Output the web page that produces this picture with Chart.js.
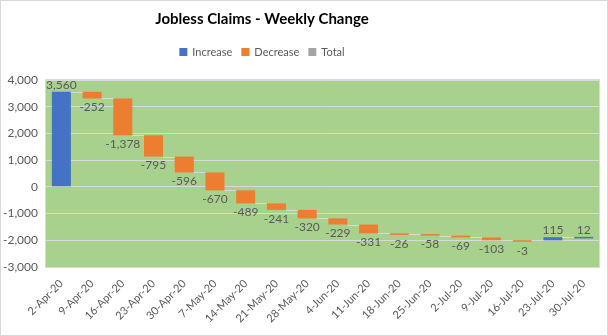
<!DOCTYPE html>
<html>
<head>
<meta charset="utf-8">
<script src="https://cdn.jsdelivr.net/npm/chart.js@4"></script>
<style>
  html, body { margin: 0; padding: 0; background: #fff; }
</style>
</head>
<body>
<canvas id="chart" width="608" height="336"></canvas>
<script>
// ==== Data ====
const weeks = ['2-Apr-20', '9-Apr-20', '16-Apr-20', '23-Apr-20', '30-Apr-20', '7-May-20',
  '14-May-20', '21-May-20', '28-May-20', '4-Jun-20', '11-Jun-20', '18-Jun-20',
  '25-Jun-20', '2-Jul-20', '9-Jul-20', '16-Jul-20', '23-Jul-20', '30-Jul-20'];
const weeklyChange = [3560, -252, -1378, -795, -596, -670, -489, -241, -320, -229,
  -331, -26, -58, -69, -103, -3, 115, 12];
const yTicks = [-3000, -2000, -1000, 0, 1000, 2000, 3000, 4000];
const seriesNames = ['Increase', 'Decrease', 'Total'];

const BLUE = '#4472C4', ORANGE = '#ED7D31', GREY = '#A5A5A5';
const TEXT = '#595959';
const FONT = 'Lato, "Open Sans", sans-serif';
const TITLE = 'Jobless Claims - Weekly Change';
const HEAD_X = 262; // title/legend centre line

// ---- Waterfall ranges (running total) ----
const ups = [], downs = [], totals = [], ends = [];
let run = 0;
weeklyChange.forEach(v => {
  const start = run;
  run += v;
  ends.push(run);
  ups.push(v >= 0 ? [start, run] : null);
  downs.push(v < 0 ? [start, run] : null);
  totals.push(null);
});

// chart frame, plot area fill, title and legend
const frame = {
  id: 'frame',
  beforeDraw(chart) {
    const { ctx, chartArea: a, width, height } = chart;
    ctx.save();
    ctx.fillStyle = '#fff';
    ctx.fillRect(0, 0, width, height);
    ctx.strokeStyle = '#d9d9d9';
    ctx.lineWidth = 1;
    ctx.strokeRect(0.5, 0.5, width - 1, height - 1);
    ctx.fillStyle = '#A9D18E';
    ctx.fillRect(a.left, a.top, a.right - a.left, a.bottom - a.top);
    ctx.strokeRect(a.left - 0.5, a.top - 0.5, a.right - a.left + 1, a.bottom - a.top + 1);

    // title
    ctx.fillStyle = '#000';
    ctx.font = 'bold 15px ' + FONT;
    ctx.textAlign = 'center';
    ctx.textBaseline = 'middle';
    ctx.fillText(TITLE, HEAD_X, 19);

    // legend
    const colors = chart.data.datasets.map(d => d.backgroundColor);
    ctx.font = '11px ' + FONT;
    ctx.textAlign = 'left';
    const box = 8, gap = 5, itemGap = 9;
    const widths = seriesNames.map(n => box + gap + ctx.measureText(n).width);
    const total = widths.reduce((s, w) => s + w, 0) + itemGap * (widths.length - 1);
    let x = HEAD_X - total / 2;
    seriesNames.forEach((n, i) => {
      ctx.fillStyle = colors[i];
      ctx.fillRect(x, 48, box, box);
      ctx.fillStyle = TEXT;
      ctx.fillText(n, x + box + gap, 52.5);
      x += widths[i] + itemGap;
    });
    ctx.restore();
  }
};

// connector lines between bars + value labels
const waterfallExtras = {
  id: 'waterfallExtras',
  afterDatasetsDraw(chart) {
    const { ctx } = chart;
    const y = chart.scales.y;
    const bars = weeklyChange.map((v, i) => chart.getDatasetMeta(v >= 0 ? 0 : 1).data[i]);
    ctx.save();
    ctx.strokeStyle = '#d9d9d9';
    ctx.lineWidth = 1;
    for (let i = 0; i < bars.length - 1; i++) {
      const yy = Math.round(y.getPixelForValue(ends[i])) + 0.5;
      ctx.beginPath();
      ctx.moveTo(bars[i].x + bars[i].width / 2, yy);
      ctx.lineTo(bars[i + 1].x - bars[i + 1].width / 2, yy);
      ctx.stroke();
    }
    ctx.fillStyle = TEXT;
    ctx.font = '12px ' + FONT;
    ctx.textAlign = 'center';
    weeklyChange.forEach((v, i) => {
      const b = bars[i];
      const txt = v.toLocaleString('en-US');
      if (v >= 0) {
        ctx.textBaseline = 'bottom';
        ctx.fillText(txt, b.x, Math.min(b.y, b.base) - 1);
      } else {
        ctx.textBaseline = 'top';
        ctx.fillText(txt, b.x, Math.max(b.y, b.base) + 3);
      }
    });
    ctx.restore();
  }
};

new Chart(document.getElementById('chart'), {
  type: 'bar',
  data: {
    labels: weeks,
    datasets: [
      { label: seriesNames[0], data: ups, backgroundColor: BLUE },
      { label: seriesNames[1], data: downs, backgroundColor: ORANGE },
      { label: seriesNames[2], data: totals, backgroundColor: GREY }
    ]
  },
  options: {
    responsive: false,
    animation: false,
    layout: { padding: { left: 0, right: 9, top: 80, bottom: 0 } },
    datasets: { bar: { grouped: false, categoryPercentage: 1, barPercentage: 0.62, borderWidth: 0, minBarLength: 1.5 } },
    plugins: {
      title: { display: false },
      legend: { display: false },
      tooltip: { enabled: false }
    },
    scales: {
      x: {
        afterFit: (s) => { s.height = 69; },
        grid: { display: false },
        border: { display: false },
        ticks: { color: TEXT, autoSkip: false, maxRotation: 45, minRotation: 45, padding: 2,
          font: { family: FONT, size: 11 } }
      },
      y: {
        min: -3000, max: 4000,
        afterFit: (s) => { s.width = 46; },
        afterBuildTicks: (s) => { s.ticks = yTicks.map(v => ({ value: v })); },
        grid: { color: '#d9d9d9', drawTicks: false },
        border: { display: false },
        ticks: { color: TEXT, padding: 8, font: { family: FONT, size: 12 },
          callback: (v) => v.toLocaleString('en-US') }
      }
    }
  },
  plugins: [frame, waterfallExtras]
});
</script>
</body>
</html>
